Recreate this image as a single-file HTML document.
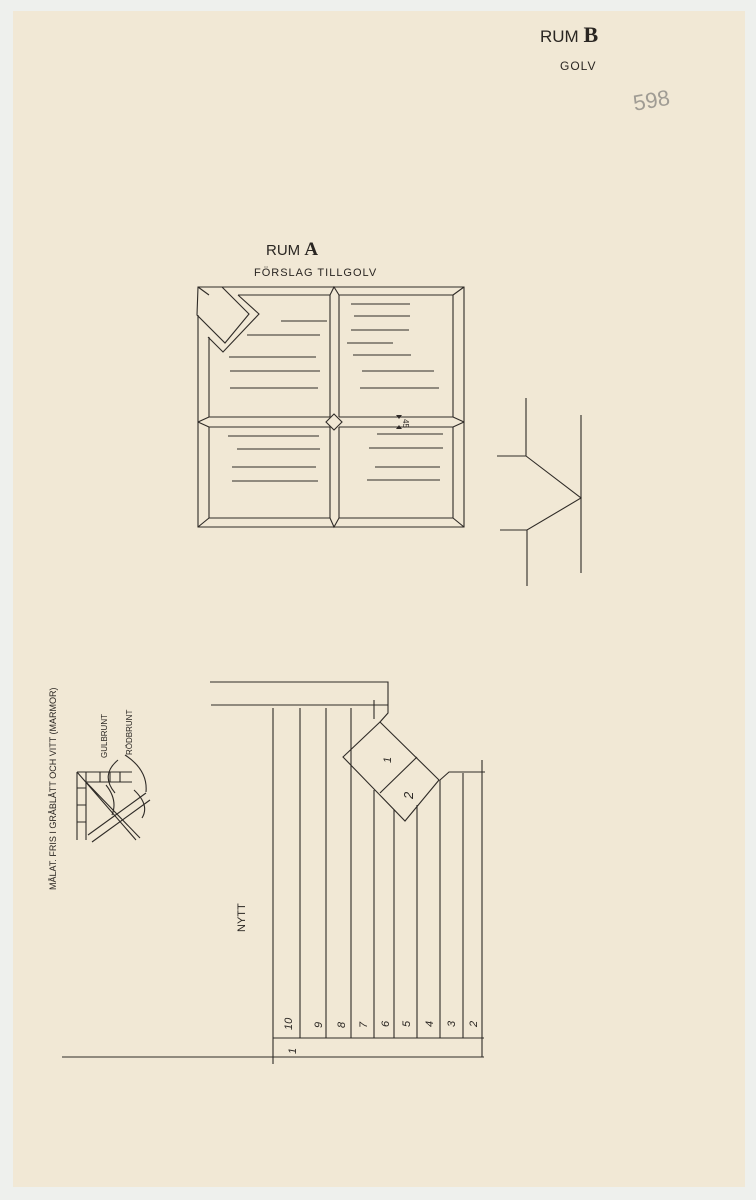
<!DOCTYPE html>
<html><head><meta charset="utf-8"><style>
html,body{margin:0;padding:0;background:#eef0ed;}
svg{display:block}
text{font-family:"Liberation Sans",sans-serif;fill:#2a2622}
</style></head><body>
<svg width="756" height="1200" viewBox="0 0 756 1200" xmlns="http://www.w3.org/2000/svg">
<rect x="0" y="0" width="756" height="1200" fill="#eef0ed"/>
<rect x="13" y="11" width="732" height="1176" fill="#f1e8d5"/>
<g stroke="#2f2b27" stroke-width="1.1" fill="none">
<!-- Rum A plan -->
<path d="M222,287 L464,287 L464,527 L198,527 L198,315"/>
<path d="M222,287 L249,314 L225,343 L197,315 L198,287 L222,287"/>
<path d="M238,295 L259,314 L223,352 L208,337"/>
<path d="M238,295 L330,295 M339,295 L453,295 L453,417 M453,427 L453,518 L339,518 M330,518 L209,518 L209,427 M209,417 L209,337"/>
<path d="M198,287 L209,295 M464,287 L453,295 M464,527 L453,518 M198,527 L209,518"/>
<path d="M209,417 L330,417 M339,417 L453,417 M209,427 L330,427 M339,427 L453,427"/>
<path d="M198,422 L209,417 M198,422 L209,427 M464,422 L453,417 M464,422 L453,427"/>
<path d="M330,295 L330,417 M339,295 L339,417 M330,427 L330,518 M339,427 L339,518"/>
<path d="M330,295 L334,287 L339,295 M330,518 L334,527 L339,518"/>
<path d="M334,414 L342,422 L334,430 L326,422 Z"/>
<path d="M281,321H327M247,335H320M229,357H316M230,371H320M230,388H318"/>
<path d="M351,304H410M354,316H410M351,330H409M347,343H393M353,355H411M362,371H434M360,388H439"/>
<path d="M228,436H319M237,449H320M232,467H316M232,481H318"/>
<path d="M377,434H443M369,448H443M375,467H440M367,480H440"/>
<!-- side detail -->
<path d="M526,398 L526,456 L497,456 M526,456 L581,498 L527,530 L500,530 M527,530 L527,586 M581,415 L581,573"/>
<!-- bottom plan -->
<path d="M210,682 L388,682 L388,713 L380,722 M211,705 L388,705"/>
<path d="M273,708 L273,1064 M300,708 L300,1038 M326,708 L326,1038 M351,708 L351,770 M351,770 L351,1038 M374,700 L374,719 M374,790 L374,1038"/>
<path d="M380,722 L439,780 L405,821 L343,757 Z M380,793 L417,757"/>
<path d="M394,810 L394,1038 M417,805 L417,1038 M440,780 L440,1038 M463,773 L463,1038 M482,760 L482,1057 M440,780 L449,772 L485,772"/>
<path d="M273,1038 L484,1038 M62,1057 L484,1057"/>
<!-- left small detail -->
<path d="M77,772 L77,840 M77,772 L132,772 M77,788 L86,788 M77,805 L86,805 M77,822 L86,822 M86,772 L86,840 M100,772 L100,782 M110,772 L110,782 M120,772 L120,782 M86,782 L132,782"/>
<path d="M77,772 L136,840 M86,782 L140,838 M92,842 L150,800 M88,835 L146,793"/>
<path d="M106,785 Q118,800 112,815 M118,760 Q100,775 115,793" />
<path d="M134,790 Q150,805 142,818 M125,755 Q148,770 146,792"/>
</g>
<path d="M396,415 L402,415 L399,419 Z M396,429 L402,429 L399,425 Z" fill="#2f2b27"/>
<text x="403" y="425" font-size="8" transform="rotate(90 406 422)">45</text>
<text x="540" y="42" font-size="17">RUM <tspan font-family="Liberation Serif" font-weight="bold" font-size="22">B</tspan></text>
<text x="560" y="70" font-size="12" letter-spacing="1">GOLV</text>
<text x="633" y="108" font-size="22" fill="#9a968e" style="fill:#a09c94" transform="rotate(-10 650 100)">598</text>
<text x="266" y="255" font-size="15">RUM <tspan font-family="Liberation Serif" font-weight="bold" font-size="19">A</tspan></text>
<text x="254" y="276" font-size="11" letter-spacing="1">FÖRSLAG TILLGOLV</text>
<text font-size="11" transform="translate(245 932) rotate(-90)">NYTT</text>
<text font-size="9" transform="translate(56 890) rotate(-90)">MÅLAT. FRIS I GRÅBLÅTT OCH VITT (MARMOR)</text>
<text font-size="8" transform="translate(107 758) rotate(-90)">GULBRUNT</text>
<text font-size="8" transform="translate(132 755) rotate(-90)">RÖDBRUNT</text>
<g font-size="11" font-style="italic">
<text transform="translate(292 1030) rotate(-90)">10</text>
<text transform="translate(322 1028) rotate(-90)">9</text>
<text transform="translate(345 1028) rotate(-90)">8</text>
<text transform="translate(367 1028) rotate(-90)">7</text>
<text transform="translate(389 1027) rotate(-90)">6</text>
<text transform="translate(410 1027) rotate(-90)">5</text>
<text transform="translate(433 1027) rotate(-90)">4</text>
<text transform="translate(455 1027) rotate(-90)">3</text>
<text transform="translate(477 1027) rotate(-90)">2</text>
<text transform="translate(296 1054) rotate(-90)">1</text>
<text transform="translate(391 763) rotate(-90)">1</text>
<text transform="translate(413 799) rotate(-90)" font-size="13">2</text>
</g>
</svg>
</body></html>
